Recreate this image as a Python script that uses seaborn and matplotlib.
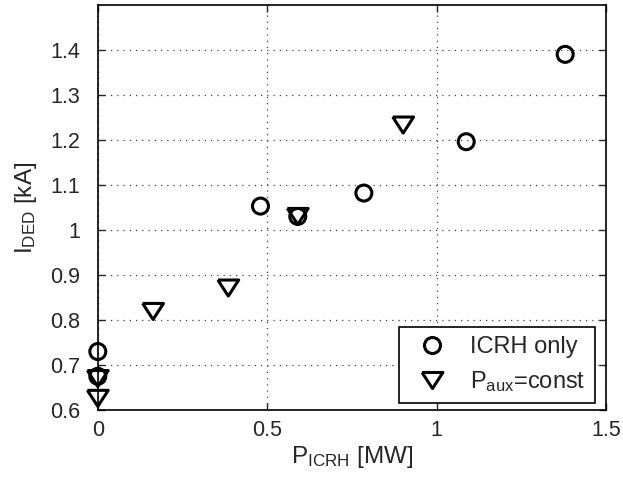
import matplotlib
matplotlib.use("Agg")
import matplotlib.pyplot as plt
import seaborn as sns
import pandas as pd
from matplotlib.lines import Line2D
from matplotlib.ticker import FormatStrFormatter

# Data
icrh_x = [0.0, 0.0, 0.48, 0.59, 0.785, 1.087, 1.379]
icrh_y = [0.73, 0.675, 1.053, 1.03, 1.082, 1.196, 1.390]
paux_x = [0.0, 0.0, 0.163, 0.385, 0.59, 0.901]
paux_y = [0.67, 0.626, 0.819, 0.871, 1.03, 1.233]
series_names = ["ICRH only", r"P$_{\mathregular{aux}}$=const"]
xticks = [0, 0.5, 1, 1.5]
yticks = [0.6, 0.7, 0.8, 0.9, 1.0, 1.1, 1.2, 1.3, 1.4]

sns.set_style("ticks")
plt.rcParams["font.family"] = ["Liberation Sans", "DejaVu Sans"]
plt.rcParams["mathtext.fontset"] = "custom"
plt.rcParams["mathtext.rm"] = "Liberation Sans"
plt.rcParams["mathtext.it"] = "Liberation Sans"
plt.rcParams["font.size"] = 15

df = pd.DataFrame({
    "x": icrh_x + paux_x,
    "y": icrh_y + paux_y,
    "series": [series_names[0]] * len(icrh_x) + [series_names[1]] * len(paux_x),
})

tri = [(-1, 0.77), (1, 0.77), (0, -0.77), (-1, 0.77)]

fig = plt.figure(figsize=(6.23, 4.83), dpi=100)
ax = fig.add_axes([0.157, 0.151, 0.816, 0.839])

sns.scatterplot(data=df[df.series == series_names[0]], x="x", y="y", ax=ax,
                marker="o", s=132, facecolor="none", edgecolor="black",
                linewidth=2.2, legend=False, zorder=3, clip_on=False)
sns.scatterplot(data=df[df.series == series_names[1]], x="x", y="y", ax=ax,
                marker=tri, s=225, facecolor="none", edgecolor="black",
                linewidth=2.2, legend=False, zorder=3, clip_on=False)

ax.set_xlim(0, 1.5)
ax.set_ylim(0.6, 1.5)
ax.set_xticks(xticks)
ax.set_yticks(yticks)
ax.xaxis.set_major_formatter(FormatStrFormatter("%g"))
ax.yaxis.set_major_formatter(FormatStrFormatter("%g"))
ax.tick_params(direction="in", top=True, right=True, length=5, width=1,
               labelsize=15.5)
ax.tick_params(axis="y", pad=13)
ax.tick_params(axis="x", pad=7)
for sp in ax.spines.values():
    sp.set_linewidth(1.2)
    sp.set_color("black")
ax.grid(True, linestyle=(0, (1, 4)), color="#444444", linewidth=0.9)
ax.set_axisbelow(True)

ax.set_xlabel(r"P$_{\mathregular{ICRH}}$ [MW]", fontsize=17.5, labelpad=2)
ax.set_ylabel(r"I$_{\mathregular{DED}}$ [kA]", fontsize=17.5, labelpad=8)

handles = [
    Line2D([], [], linestyle="none", marker="o", markersize=11.5,
           markerfacecolor="none", markeredgecolor="black", markeredgewidth=2.2),
    Line2D([], [], linestyle="none", marker=tri, markersize=15,
           markerfacecolor="none", markeredgecolor="black", markeredgewidth=2.2),
]
leg = ax.legend(handles, series_names, loc="lower right",
                bbox_to_anchor=(0.978, 0.017), borderaxespad=0,
                frameon=True, fancybox=False, edgecolor="black",
                fontsize=17, handletextpad=0.6, handlelength=2.0,
                borderpad=0.4, labelspacing=0.45)
leg.get_frame().set_linewidth(1.2)
leg.get_frame().set_alpha(1)

fig.savefig("out.png", dpi=100)
